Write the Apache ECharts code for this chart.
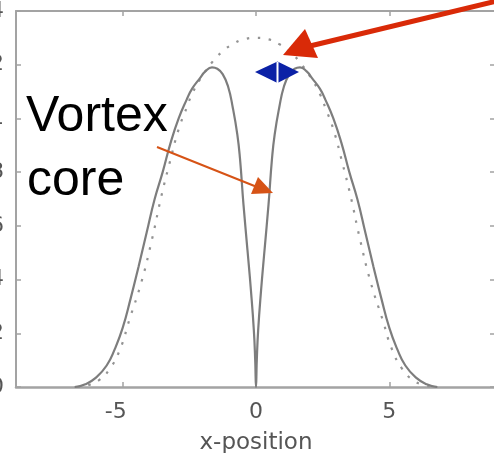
<!DOCTYPE html>
<html>
<head>
<meta charset="utf-8">
<script src="https://cdn.jsdelivr.net/npm/echarts@6/dist/echarts.min.js"></script>
<style>
  html, body { margin: 0; padding: 0; background: #fff; }
  #chart { width: 494px; height: 453px; }
</style>
</head>
<body>
<div id="chart"></div>
<script>
// Density profile across the cloud: with a vortex in the centre (solid)
// and without it (dotted).
const vortexX = [-6.8, -6.4, -6.0, -5.6, -5.3, -5.0, -4.7, -4.4, -4.1, -3.8, -3.5, -3.2, -2.9, -2.6, -2.4, -2.1, -1.9, -1.65, -1.45, -1.25, -1.05, -0.87, -0.7, -0.6, -0.47, -0.32, -0.19, -0.08, -0.03, 0,
                 0.03, 0.08, 0.19, 0.32, 0.47, 0.6, 0.7, 0.87, 1.05, 1.25, 1.45, 1.65, 1.9, 2.1, 2.4, 2.6, 2.9, 3.2, 3.5, 3.8, 4.1, 4.4, 4.7, 5.0, 5.3, 5.6, 6.0, 6.4, 6.8];
const vortexY = [0, 0.01, 0.035, 0.08, 0.14, 0.22, 0.33, 0.45, 0.575, 0.7, 0.8, 0.91, 1.0, 1.07, 1.11, 1.15, 1.175, 1.19, 1.185, 1.165, 1.12, 1.04, 0.94, 0.85, 0.68, 0.51, 0.36, 0.21, 0.1, 0,
                 0.1, 0.21, 0.36, 0.51, 0.68, 0.85, 0.94, 1.04, 1.12, 1.165, 1.185, 1.19, 1.175, 1.15, 1.11, 1.07, 1.0, 0.91, 0.8, 0.7, 0.575, 0.45, 0.33, 0.22, 0.14, 0.08, 0.035, 0.01, 0];

const groundX = [-6.7, -6.3, -5.9, -5.5, -5.1, -4.75, -4.3, -3.9, -3.55, -3.25, -2.9, -2.6, -2.4, -2.1, -1.6, -1.25, -0.9, -0.45, 0,
                 0.45, 0.9, 1.25, 1.6, 2.1, 2.4, 2.6, 2.9, 3.25, 3.55, 3.9, 4.3, 4.75, 5.1, 5.5, 5.9, 6.3, 6.7];
const groundY = [0, 0.007, 0.025, 0.065, 0.14, 0.25, 0.39, 0.55, 0.71, 0.83, 0.96, 1.04, 1.09, 1.145, 1.215, 1.25, 1.275, 1.295, 1.3,
                 1.295, 1.275, 1.25, 1.215, 1.145, 1.09, 1.04, 0.96, 0.83, 0.71, 0.55, 0.39, 0.25, 0.14, 0.065, 0.025, 0.007, 0];

const xTicks = [-5, 0, 5];
const xName = 'x-position';

const pairs = (xs, ys) => xs.map((x, i) => [x, ys[i]]);

const axisGrey = '#a3a3a3';
const labelGrey = '#555';
const labelFont = 'DejaVu Sans';

const chart = echarts.init(document.getElementById('chart'), null, { renderer: 'canvas' });

chart.setOption({
  animation: false,
  backgroundColor: '#fff',
  grid: { left: 16, right: -2, top: 11, bottom: 66, containLabel: false, outerBoundsMode: 'none' },
  xAxis: [
    {
      type: 'value', min: -9, max: 9, position: 'bottom',
      name: xName, nameLocation: 'middle', nameGap: 45,
      nameTextStyle: { color: labelGrey, fontSize: 23, fontFamily: labelFont },
      axisLine: { show: true, onZero: false, lineStyle: { color: axisGrey, width: 2.5 } },
      axisTick: { show: true, inside: true, length: 5, customValues: xTicks, lineStyle: { color: axisGrey, width: 1.5 } },
      axisLabel: {
        show: true, customValues: xTicks, margin: 14,
        color: labelGrey, fontSize: 22, fontFamily: labelFont,
        formatter: v => (v < 0 ? '{neg|' + v + '}' : String(v)),
        rich: { neg: { color: labelGrey, fontSize: 22, fontFamily: labelFont, padding: [0, 14, 0, 0] } }
      },
      splitLine: { show: false }
    },
    {
      type: 'value', min: -9, max: 9, position: 'top',
      axisLine: { show: true, onZero: false, lineStyle: { color: axisGrey, width: 2 } },
      axisTick: { show: true, inside: true, length: 5, customValues: xTicks, lineStyle: { color: axisGrey, width: 1.5 } },
      axisLabel: { show: false },
      splitLine: { show: false }
    }
  ],
  yAxis: [
    {
      type: 'value', min: 0, max: 1.4, interval: 0.2, position: 'left',
      axisLine: { show: true, onZero: false, lineStyle: { color: axisGrey, width: 2 } },
      axisTick: { show: true, inside: true, length: 5, lineStyle: { color: axisGrey, width: 1.5 } },
      axisLabel: { show: true, margin: 12, color: labelGrey, fontSize: 22, fontFamily: labelFont },
      splitLine: { show: false }
    },
    {
      type: 'value', min: 0, max: 1.4, interval: 0.2, position: 'right',
      axisLine: { show: true, onZero: false, lineStyle: { color: axisGrey, width: 2 } },
      axisTick: { show: true, inside: true, length: 6, lineStyle: { color: axisGrey, width: 1.5 } },
      axisLabel: { show: false },
      splitLine: { show: false }
    }
  ],
  series: [
    {
      name: 'no vortex', type: 'line', xAxisIndex: 0, yAxisIndex: 0,
      data: pairs(groundX, groundY), smooth: 0.5, showSymbol: false,
      lineStyle: { color: '#939393', width: 2.2, type: [2.5, 8.5] },
      z: 2
    },
    {
      name: 'vortex', type: 'line', xAxisIndex: 0, yAxisIndex: 0,
      data: pairs(vortexX, vortexY), smooth: 0.5, showSymbol: false,
      lineStyle: { color: '#7d7d7d', width: 2.2 },
      z: 3
    }
  ],
  graphic: [
    // "Vortex core" callout
    { type: 'text', style: { x: 26, y: 117, text: 'Vortex', font: '50px "Liberation Sans", Arial, sans-serif', fill: '#000', align: 'left', verticalAlign: 'middle' }, z: 10 },
    { type: 'text', style: { x: 27, y: 181, text: 'core', font: '50px "Liberation Sans", Arial, sans-serif', fill: '#000', align: 'left', verticalAlign: 'middle' }, z: 10 },
    { type: 'line', shape: { x1: 157, y1: 147, x2: 257, y2: 187 }, style: { stroke: '#d65316', lineWidth: 2 }, z: 10 },
    { type: 'polygon', shape: { points: [[273, 193], [258, 177], [251, 194]] }, style: { fill: '#d65316' }, z: 10 },
    // pointer to the peak
    { type: 'line', shape: { x1: 310, y1: 46, x2: 505, y2: -1 }, style: { stroke: '#d92a08', lineWidth: 5 }, z: 10 },
    { type: 'polygon', shape: { points: [[283, 55], [305, 29], [318, 58]] }, style: { fill: '#d92a08' }, z: 10 },
    // peak-to-core distance marker
    { type: 'polygon', shape: { points: [[255, 72], [277.5, 61.5], [277.5, 83]] }, style: { fill: '#0b21a6' }, z: 10 },
    { type: 'polygon', shape: { points: [[299, 72], [277.5, 61.5], [277.5, 83]] }, style: { fill: '#0b21a6' }, z: 10 },
    { type: 'line', shape: { x1: 277.5, y1: 62, x2: 277.5, y2: 83 }, style: { stroke: '#fff', lineWidth: 2 }, z: 11 }
  ]
});
</script>
</body>
</html>
